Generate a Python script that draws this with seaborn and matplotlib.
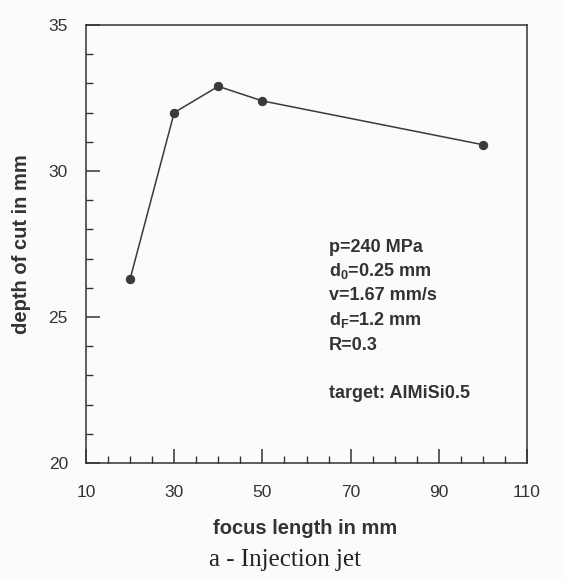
import matplotlib
matplotlib.use("Agg")
import matplotlib.pyplot as plt
import seaborn as sns
import pandas as pd
from matplotlib.ticker import MultipleLocator

focus_length = [20, 30, 40, 50, 100]
depth_of_cut = [26.3, 32.0, 32.9, 32.4, 30.9]
x_ticks = [10, 30, 50, 70, 90, 110]
y_ticks = [20, 25, 30, 35]
info_lines = ["p=240 MPa", r"d$_0$=0.25 mm", "v=1.67 mm/s", r"d$_F$=1.2 mm", "R=0.3", "", "target: AlMiSi0.5"]

sns.set_style("ticks")
plt.rcParams['font.family'] = ['Liberation Sans', 'DejaVu Sans']
plt.rcParams['mathtext.fontset'] = 'custom'
plt.rcParams['mathtext.rm'] = 'Liberation Sans:bold'
plt.rcParams['mathtext.it'] = 'Liberation Sans:bold'
plt.rcParams['mathtext.bf'] = 'Liberation Sans:bold'

bg = '#fdfafd'
fig = plt.figure(figsize=(5.65, 5.78), dpi=100, facecolor=bg)
ax = fig.add_axes([86/565, 1-463/578, (527-86)/565, (463-25)/578])
ax.set_facecolor(bg)

df = pd.DataFrame({"focus": focus_length, "depth": depth_of_cut})
sns.lineplot(data=df, x="focus", y="depth", ax=ax, color='#3a3a3a', linewidth=1.1,
             marker='o', markersize=6, markeredgecolor='#3a3a3a', markerfacecolor='#3a3a3a')

ax.set_xlim(10, 110)
ax.set_ylim(20, 35)
ax.set_xticks(x_ticks)
ax.set_yticks(y_ticks)
ax.xaxis.set_minor_locator(MultipleLocator(5))
ax.yaxis.set_minor_locator(MultipleLocator(1))
ax.tick_params(which='major', direction='in', length=10, width=1.1, color='#333333',
               labelsize=12.5, labelcolor='#333333')
ax.tick_params(which='minor', direction='in', length=5, width=1.0, color='#333333')
ax.tick_params(axis='x', which='major', pad=16)
ax.tick_params(axis='y', which='major', pad=13)
for s in ax.spines.values():
    s.set_color('#333333')
    s.set_linewidth(1.1)

ax.set_xlabel("focus length in mm", fontsize=14.5, fontweight='bold', color='#333333')
ax.xaxis.set_label_coords(305/565, 1-528/578, transform=fig.transFigure)
ax.xaxis.label.set_va('center')
ax.set_ylabel("depth of cut in mm", fontsize=14.5, fontweight='bold', color='#333333')
ax.yaxis.set_label_coords(22/565, 1-244/578, transform=fig.transFigure)
ax.yaxis.label.set_va('center')

ys = [248, 271, 295, 320, 345, None, 393]
for line, yp in zip(info_lines, ys):
    if not line or yp is None:
        continue
    ax.text(329/565, 1-yp/578, line, transform=fig.transFigure,
            fontsize=13, fontweight='bold', color='#333333', va='center', ha='left')

fig.text(285/565, 1-560/578, "a - Injection jet", family=['Liberation Serif'], fontsize=18,
         color='#222222', ha='center', va='center')

fig.savefig("out.png", dpi=100, facecolor=bg)
